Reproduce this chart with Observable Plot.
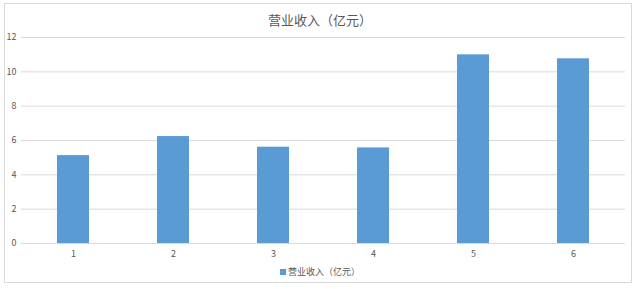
<!DOCTYPE html>
<html>
<head>
<meta charset="utf-8">
<script src="https://cdn.jsdelivr.net/npm/d3@7"></script>
<script src="https://cdn.jsdelivr.net/npm/@observablehq/plot@0.6"></script>
<style>
  html, body { margin: 0; padding: 0; background: #fff; }
  body { width: 640px; height: 289px; position: relative; overflow: hidden;
         font-family: "Noto Sans CJK SC", "Noto Sans", sans-serif; }
  #frame { position: absolute; left: 4px; top: 3px; width: 628px; height: 280px;
           border: 1px solid #d9d9d9; box-sizing: border-box; pointer-events: none; }
  #title { height: 30px; box-sizing: border-box; padding-top: 11px; line-height: 18px;
           text-align: center; font-size: 13px; color: #595959; }
  #chart svg { display: block; }
  #legend { height: 24px; box-sizing: border-box; padding-top: 1px; line-height: 12px;
            text-align: center; font-size: 9px; color: #595959; }
  #legend .sw { display: inline-block; width: 6px; height: 6px; background: #5B9BD5;
                margin-right: 2px; vertical-align: 0px; }
</style>
</head>
<body>
<div id="frame"></div>
<div id="title"></div>
<div id="chart"></div>
<div id="legend"></div>
<script>
const categories = ["1", "2", "3", "4", "5", "6"];
const values = [5.12, 6.23, 5.61, 5.57, 10.99, 10.76];
const yTicks = [0, 2, 4, 6, 8, 10, 12];
const seriesName = "营业收入（亿元）";
const barColor = "#5B9BD5";

const data = categories.map((c, i) => ({cat: c, value: values[i]}));

document.getElementById("title").textContent = seriesName;

const chart = Plot.plot({
  width: 640,
  height: 235,
  marginTop: 7,
  marginBottom: 22,
  marginLeft: 21,
  marginRight: 15,
  style: {fontSize: "9px", color: "#595959", fontFamily: "'Noto Sans CJK SC', 'Noto Sans', sans-serif", background: "transparent"},
  x: {domain: categories, paddingInner: 0.68, paddingOuter: 0.34, label: null, tickSize: 0, tickPadding: 7},
  y: {domain: [0, 12], ticks: yTicks, label: null, tickSize: 0, tickPadding: 5},
  marks: [
    Plot.gridY(yTicks, {stroke: "#d9d9d9", strokeOpacity: 1}),
    Plot.barY(data, {x: "cat", y: "value", fill: barColor}),
    Plot.ruleY([0], {stroke: "#d9d9d9"})
  ]
});
document.getElementById("chart").appendChild(chart);

const legend = document.getElementById("legend");
const sw = document.createElement("span");
sw.className = "sw";
legend.appendChild(sw);
legend.appendChild(document.createTextNode(seriesName));
</script>
</body>
</html>
